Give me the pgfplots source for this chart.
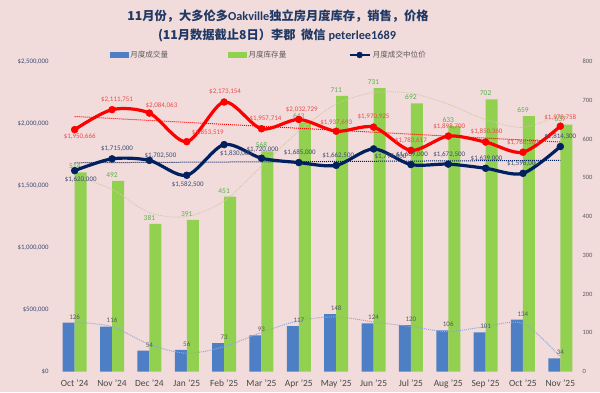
\documentclass[border=0pt]{standalone}
\usepackage{pgfplots}
\pgfplotsset{compat=1.18}
\usepackage{fontspec}
\setmainfont{Carlito}
\newfontfamily\cjk{Noto Sans CJK SC}
\definecolor{bg}{HTML}{F2DCDB}
\definecolor{barblue}{HTML}{4E7FC4}
\definecolor{bargreen}{HTML}{92D050}
\definecolor{navy}{HTML}{002060}
\definecolor{titlec}{HTML}{203864}
\definecolor{glab}{HTML}{5BAF4F}
\definecolor{rlab}{HTML}{E84C4C}
\definecolor{nlab}{HTML}{3B4A73}
\definecolor{gtxt}{HTML}{595959}
\definecolor{trendg}{HTML}{CFC7A8}
\definecolor{trendb}{HTML}{8FA8D8}
\begin{document}
\begin{tikzpicture}[x=1bp,y=1bp]
\fill[bg] (0,0) rectangle (600,392);
\node[text=titlec, font=\fontsize{12.3}{14}\selectfont\bfseries] at (278,376) {{\cjk 11月份，大多伦多}Oakville{\cjk 独立房月度库存，销售，价格}};
\node[text=titlec, font=\fontsize{12.3}{14}\selectfont\bfseries] at (277,357) {{\cjk (11月数据截止8日）李郡\ \ 微信} peterlee1689};
% right axis: bars
\begin{axis}[
  at={(56bp,20.5bp)}, anchor=south west, scale only axis,
  width=523bp, height=310bp,
  xmin=-0.5, xmax=13.5, ymin=0, ymax=800,
  axis y line*=right, axis x line*=bottom,
  axis line style={draw=none}, tick style={draw=none},
  ytick={0,100,...,800},
  xtick={0,...,13},
  xticklabels={Oct '24,Nov '24,Dec '24,Jan '25,Feb '25,Mar '25,Apr '25,May '25,Jun '25,Jul '25,Aug '25,Sep '25,Oct '25,Nov '25},
  xticklabel style={font=\fontsize{9.5}{10}\selectfont, text=gtxt!80!black, yshift=-5bp},
  yticklabel style={font=\fontsize{6.5}{7}\selectfont, text=gtxt},
  /pgf/number format/assume math mode=true,
]
\addplot[ybar, bar width=12bp, bar shift=-6bp, fill=barblue, draw=none,
  nodes near coords, nodes near coords style={font=\fontsize{7}{8}\selectfont, text=gtxt}]
  table[x=x,y=y]{
x y
0 126
1 116
2 54
3 56
4 73
5 93
6 117
7 148
8 124
9 120
10 106
11 101
12 134
13 34
};
\addplot[ybar, bar width=12bp, bar shift=6bp, fill=bargreen, draw=none,
  nodes near coords, nodes near coords style={font=\fontsize{7.5}{8}\selectfont, text=glab}]
  table[x=x,y=y]{
x y
0 514
1 492
2 381
3 391
4 451
5 568
6 643
7 711
8 731
9 692
10 633
11 702
12 659
13 637
};
% inventory polynomial trend
\addplot[trendg, line width=0.9bp, smooth, densely dotted] table[x=x,y=y]{
x y
0 505
1 470
2 410
3 400
4 440
5 530
6 620
7 690
8 720
9 718
10 690
11 650
12 630
13 662
};
% sales polynomial trend
\addplot[trendb, line width=1bp, smooth, densely dotted] table[x=x,y=y]{
x y
0 127
1 116
2 70
3 47
4 64
5 101
6 131
7 141
8 128
9 116
10 103
11 116
12 124
13 38
};
\end{axis}
% left axis: prices
\begin{axis}[
  at={(56bp,20.5bp)}, anchor=south west, scale only axis,
  width=523bp, height=310bp,
  xmin=-0.5, xmax=13.5, ymin=0, ymax=2500000,
  axis y line*=left, axis x line*=bottom,
  axis line style={draw=none}, tick style={draw=none},
  xtick=\empty, scaled y ticks=false,
  ytick={0,500000,1000000,1500000,2000000,2500000},
  yticklabels={{\$0},{\$500,000},{\$1,000,000},{\$1,500,000},{\$2,000,000},{\$2,500,000}},
  yticklabel style={font=\fontsize{6.8}{7}\selectfont, text=nlab, xshift=-4bp},
  legend columns=3,
  legend style={at={(0.407,1.021)}, anchor=center, draw=none, fill=none,
    font=\cjk\fontsize{7.6}{8}\selectfont, text=gtxt,
    /tikz/column 2/.style={column sep=58bp},
    /tikz/column 4/.style={column sep=60bp}},
]
\addlegendimage{legend image code/.code={\fill[barblue] (0bp,-2.5bp) rectangle (18bp,2.5bp);}}
\addlegendentry{月度成交量}
\addlegendimage{legend image code/.code={\fill[bargreen] (0bp,-2.5bp) rectangle (18bp,2.5bp);}}
\addlegendentry{月度库存量}
\addlegendimage{legend image code/.code={\draw[navy, line width=2.5bp] (0bp,0bp) -- (20bp,0bp); \fill[navy] (10bp,0bp) circle (3bp);}}
\addlegendentry{月度成交中位价}
% trend lines
\addplot[red, densely dotted, line width=1bp, forget plot] coordinates {(0,2056600) (13,1850800)};
\addplot[navy, densely dotted, line width=1bp, forget plot] coordinates {(0,1683200) (13,1703100)};
% red line
\addplot[red, line width=3.2bp, smooth, mark=*, mark size=3.5bp,
  mark options={solid, line width=0.4bp, fill=red},
  point meta=explicit symbolic, nodes near coords={\$\pgfplotspointmeta},
  visualization depends on={value \thisrow{dx}\as\dx},
  visualization depends on={value \thisrow{dy}\as\dy},
  nodes near coords style={font=\fontsize{7}{8}\selectfont, text=rlab, anchor=center, xshift=\dx bp, yshift=\dy bp},
  forget plot] table[x=x,y=y,meta=lab]{
x y lab dx dy
0 1950666 1,950,666 5 -6.5
1 2111751 2,111,751 5 9.6
2 2084063 2,084,063 12 8
3 1853519 1,853,519 21 9
4 2173154 2,173,154 1 10
5 1957714 1,957,714 4 9.7
6 2032729 2,032,729 3 9.4
7 1937693 1,937,693 0 9
8 1970925 1,970,925 0 10
9 1783617 1,783,617 0 10
10 1898700 1,898,700 1 9
11 1850360 1,850,360 1 10
12 1768500 1,768,500 0 10
13 1978758 1,978,758 0 9
};
% navy line
\addplot[navy, line width=3.2bp, smooth, mark=*, mark size=3.5bp,
  mark options={solid, line width=0.4bp, fill=navy},
  point meta=explicit symbolic, nodes near coords={\$\pgfplotspointmeta},
  visualization depends on={value \thisrow{dx}\as\dx},
  visualization depends on={value \thisrow{dy}\as\dy},
  nodes near coords style={font=\fontsize{7}{8}\selectfont, text=nlab, anchor=center, xshift=\dx bp, yshift=\dy bp},
  forget plot] table[x=x,y=y,meta=lab]{
x y lab dx dy
0 1620000 1,620,000 6 -8.5
1 1715000 1,715,000 5 10
2 1702500 1,702,500 11 5
3 1582500 1,582,500 1 -9
4 1830000 1,830,000 12 -8.5
5 1720000 1,720,000 1 9
6 1685000 1,685,000 1 10
7 1662500 1,662,500 2 9.6
8 1795000 1,795,000 17 -8
9 1669000 1,669,000 1 9.5
10 1672500 1,672,500 1 10
11 1639000 1,639,000 1 9.3
12 1598000 1,598,000 0 10
13 1814300 1,814,300 0 9.5
};
\end{axis}
\pgfresetboundingbox
\path[use as bounding box] (0,0) rectangle (600,392);
\end{tikzpicture}
\end{document}
